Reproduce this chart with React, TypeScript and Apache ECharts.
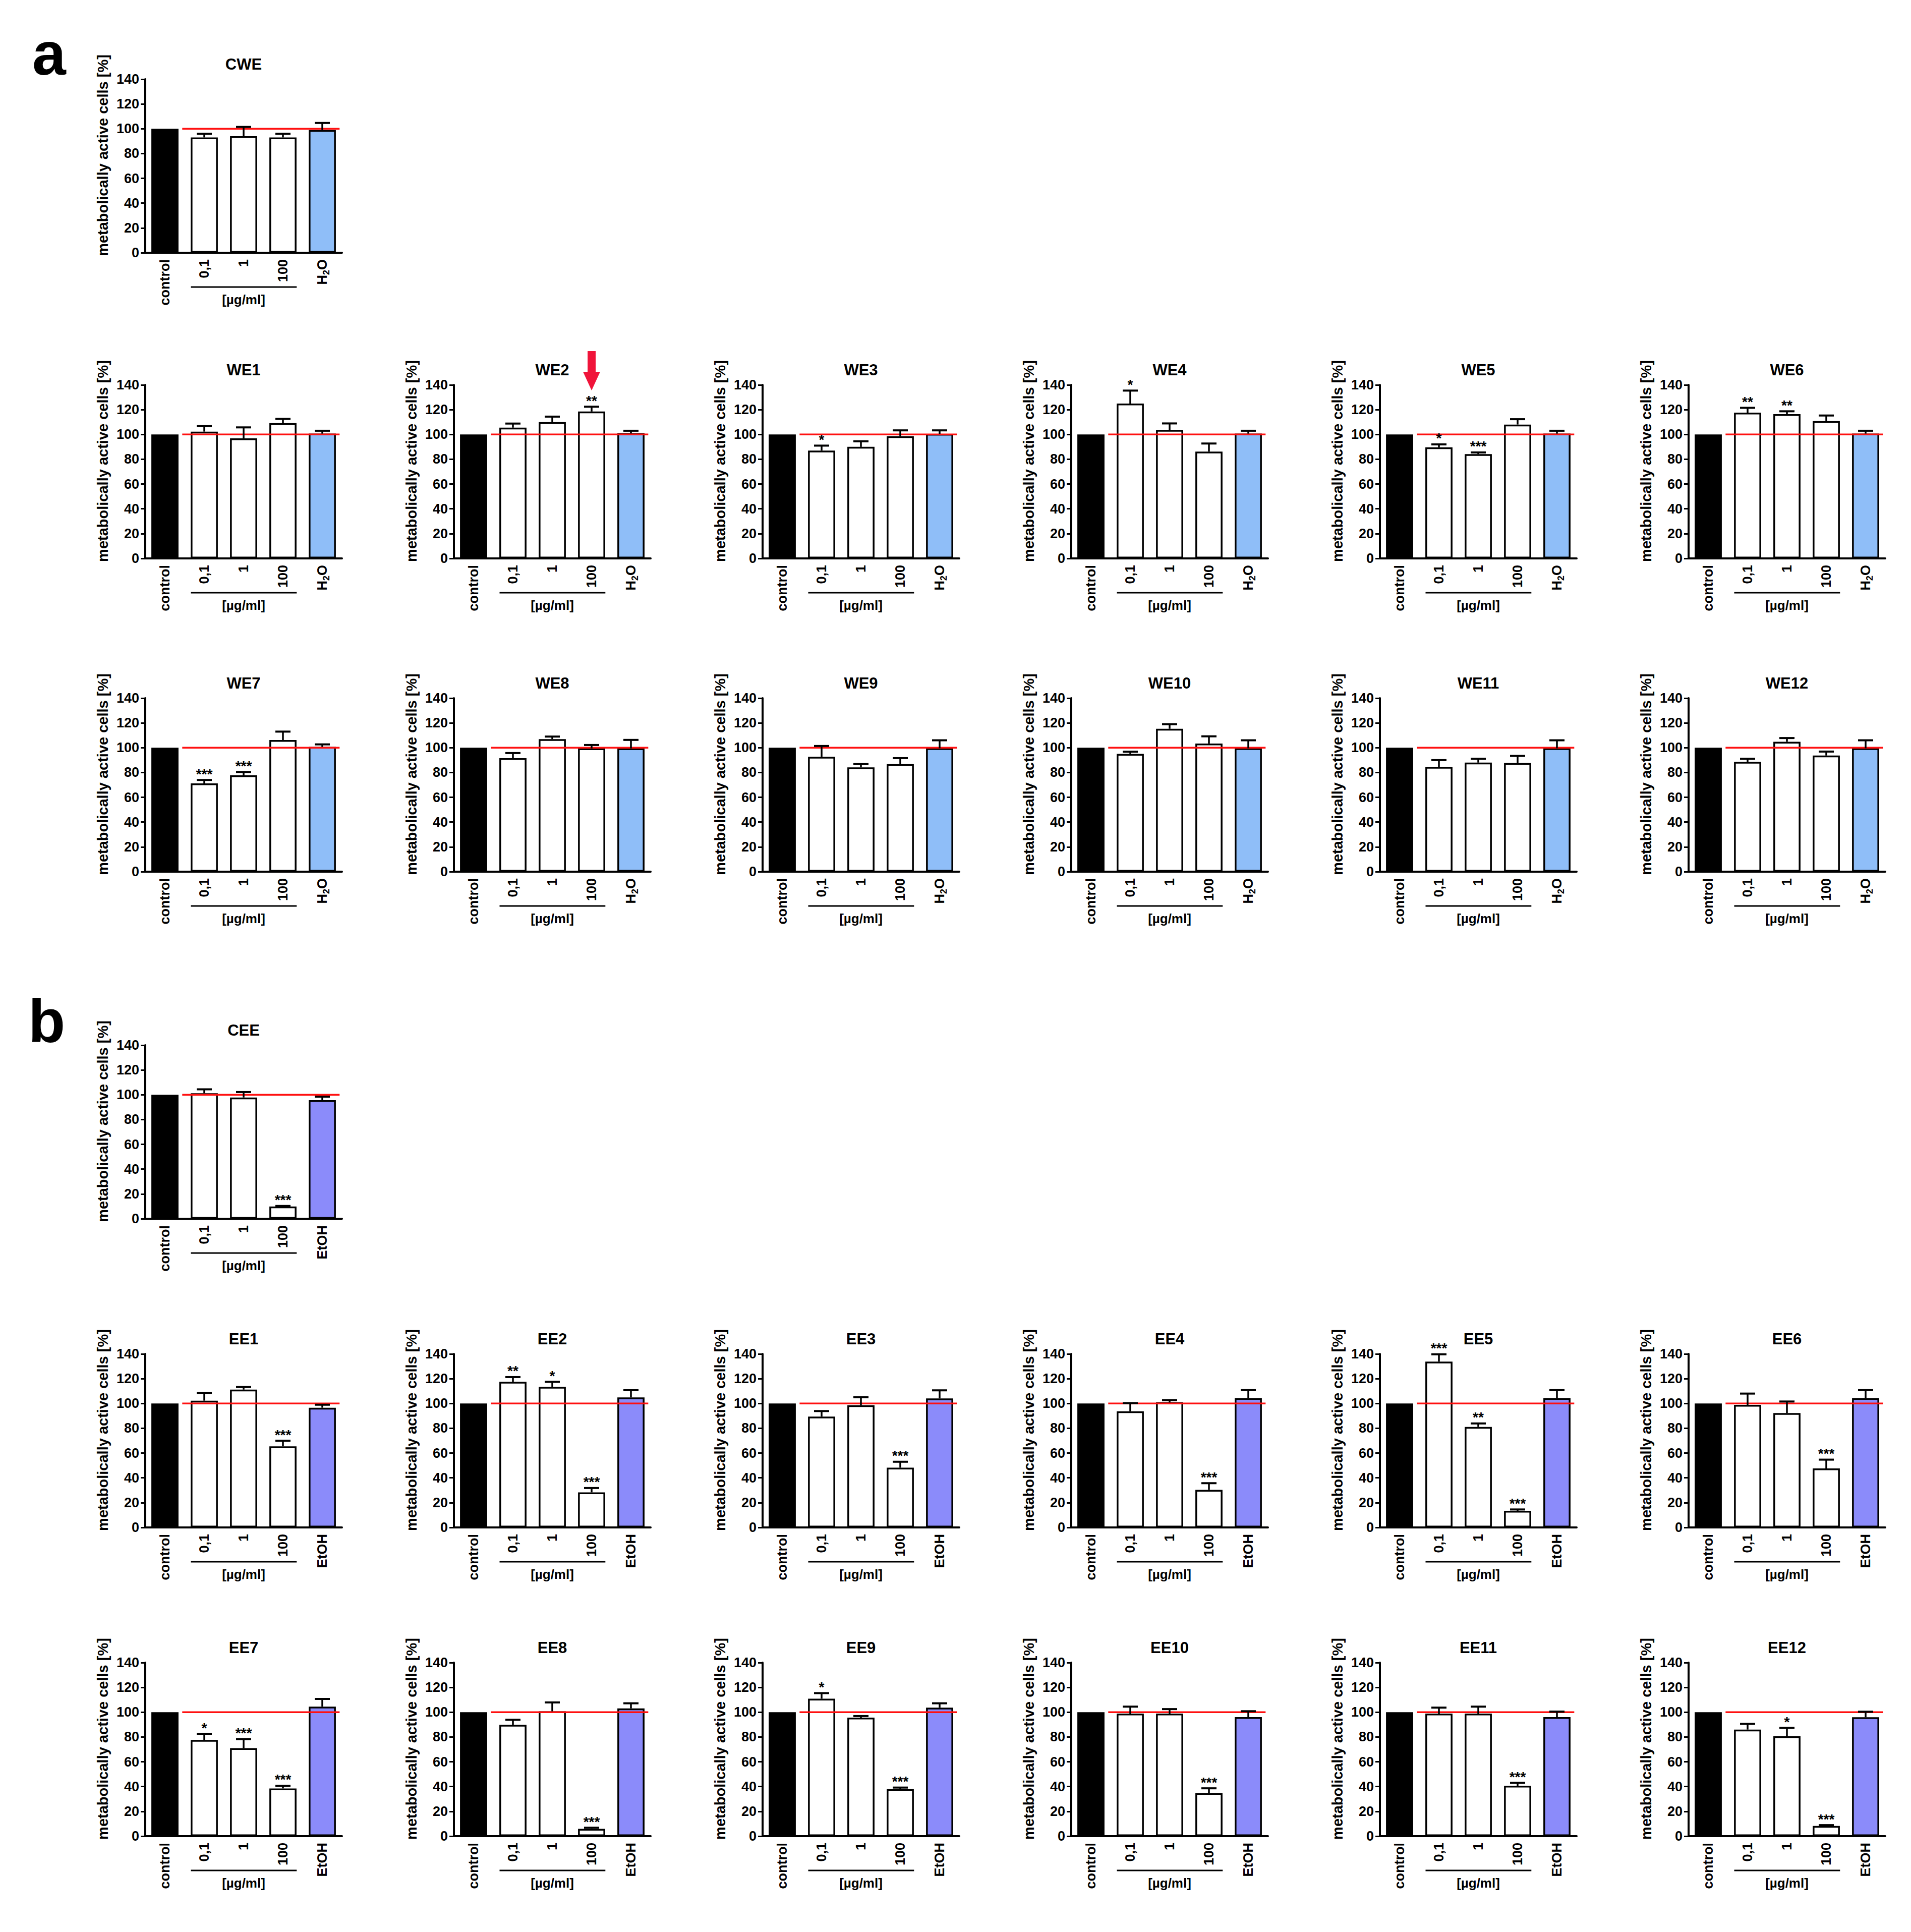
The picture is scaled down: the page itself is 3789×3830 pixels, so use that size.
import React, { useEffect, useRef } from 'react';
import * as echarts from 'echarts';

const PAGE_W = 3789;
const PAGE_H = 3830;
const FONT = '"Liberation Sans", Arial, sans-serif';

// ---- data ----
const CATS_WATER = ['control', '0,1', '1', '100', 'H2O'];
const CATS_ETOH = ['control', '0,1', '1', '100', 'EtOH'];
const REF_LEVEL = 100;
const Y_MIN = 0;
const Y_MAX = 140;
const Y_STEP = 20;
const Y_NAME = 'metabolically active cells [%]';
const UNIT = '[µg/ml]';

const CWE_MEAN = [100, 93, 94, 93, 99];
const CWE_ERR = [0, 3, 7.5, 3, 5.7];
const CWE_SIG = ['', '', '', '', ''];

const WE1_MEAN = [100, 102.3, 96.9, 109.2, 100.7];
const WE1_ERR = [0, 4.5, 8.8, 3.4, 2.3];
const WE1_SIG = ['', '', '', '', ''];
const WE2_MEAN = [100, 105.5, 110, 118.5, 101];
const WE2_ERR = [0, 3.3, 4.4, 3.9, 2];
const WE2_SIG = ['', '', '', '**', ''];
const WE3_MEAN = [100, 87, 90, 98.6, 100.5];
const WE3_ERR = [0, 4, 4.5, 4.7, 2.8];
const WE3_SIG = ['', '*', '', '', ''];
const WE4_MEAN = [100, 124.9, 103.7, 86.2, 100.7];
const WE4_ERR = [0, 10.5, 5.2, 6.5, 2.3];
const WE4_SIG = ['', '*', '', '', ''];
const WE5_MEAN = [100, 89.6, 84.1, 108, 100.7];
const WE5_ERR = [0, 2.4, 1.4, 4.3, 2.3];
const WE5_SIG = ['', '*', '***', '', ''];
const WE6_MEAN = [100, 117.6, 116.4, 110.8, 100.7];
const WE6_ERR = [0, 3.9, 2.3, 4.5, 2.3];
const WE6_SIG = ['', '**', '**', '', ''];
const WE7_MEAN = [100, 71.2, 77.7, 106.2, 100.7];
const WE7_ERR = [0, 2.8, 2.7, 6.8, 2];
const WE7_SIG = ['', '***', '***', '', ''];
const WE8_MEAN = [100, 91.6, 106.9, 99.5, 99.5];
const WE8_ERR = [0, 4.1, 2.1, 2.7, 6.8];
const WE8_SIG = ['', '', '', '', ''];
const WE9_MEAN = [100, 92.7, 84.1, 86.8, 99.6];
const WE9_ERR = [0, 8.7, 2.7, 4.8, 6.4];
const WE9_SIG = ['', '', '', '', ''];
const WE10_MEAN = [100, 95, 115.3, 103.4, 99.6];
const WE10_ERR = [0, 1.8, 3.7, 5.8, 6.4];
const WE10_SIG = ['', '', '', '', ''];
const WE11_MEAN = [100, 84.5, 88, 87.7, 99.6];
const WE11_ERR = [0, 5.5, 3.1, 5.7, 6.4];
const WE11_SIG = ['', '', '', '', ''];
const WE12_MEAN = [100, 88.6, 104.8, 93.7, 99.6];
const WE12_ERR = [0, 2.5, 3, 3.2, 6.4];
const WE12_SIG = ['', '', '', '', ''];

const CEE_MEAN = [100, 101.2, 97.8, 9.9, 95.6];
const CEE_ERR = [0, 3.2, 4.4, 0.4, 2.9];
const CEE_SIG = ['', '', '', '***', ''];

const EE1_MEAN = [100, 102.3, 111.2, 65.4, 96.6];
const EE1_ERR = [0, 6.3, 2.1, 4.6, 2.4];
const EE1_SIG = ['', '', '', '***', ''];
const EE2_MEAN = [100, 117.5, 113.4, 28.3, 104.9];
const EE2_ERR = [0, 3.8, 4.1, 3.5, 5.8];
const EE2_SIG = ['', '**', '*', '***', ''];
const EE3_MEAN = [100, 89.4, 98.6, 48.2, 104.1];
const EE3_ERR = [0, 4.5, 6.4, 4.8, 6.5];
const EE3_SIG = ['', '', '', '***', ''];
const EE4_MEAN = [100, 93.7, 101, 30.3, 104.4];
const EE4_ERR = [0, 6.6, 1.7, 5.4, 6.4];
const EE4_SIG = ['', '', '', '***', ''];
const EE5_MEAN = [100, 133.8, 81.1, 13.4, 104.4];
const EE5_ERR = [0, 5.9, 2.8, 1.1, 6.4];
const EE5_SIG = ['', '***', '**', '***', ''];
const EE6_MEAN = [100, 98.9, 92.3, 47.6, 104.4];
const EE6_ERR = [0, 9.1, 9.3, 7.1, 6.4];
const EE6_SIG = ['', '', '', '***', ''];
const EE7_MEAN = [100, 77.6, 71, 38.5, 104.5];
const EE7_ERR = [0, 5, 7.3, 2.2, 6.2];
const EE7_SIG = ['', '*', '***', '***', ''];
const EE8_MEAN = [100, 89.8, 100.7, 5.9, 103.1];
const EE8_ERR = [0, 4.1, 7.2, 0.9, 4.1];
const EE8_SIG = ['', '', '', '***', ''];
const EE9_MEAN = [100, 110.9, 95.6, 38.1, 103.7];
const EE9_ERR = [0, 4.5, 1.3, 1.1, 3.5];
const EE9_SIG = ['', '*', '', '***', ''];
const EE10_MEAN = [100, 98.9, 98.9, 34.8, 96];
const EE10_ERR = [0, 5.6, 3.6, 3.8, 4.8];
const EE10_SIG = ['', '', '', '***', ''];
const EE11_MEAN = [100, 98.9, 98.9, 40.7, 96];
const EE11_ERR = [0, 4.8, 5.6, 2.4, 4.5];
const EE11_SIG = ['', '', '', '***', ''];
const EE12_MEAN = [100, 86, 80.6, 8.2, 95.9];
const EE12_ERR = [0, 4.6, 6.8, 0.7, 4.5];
const EE12_SIG = ['', '', '*', '***', ''];

// annotation arrow (panel name, category index)
const ARROW_PANEL = 'WE2';
const ARROW_INDEX = 3;

// ---- layout ----
const COL_LEFT = [288, 900, 1512, 2124, 2736, 3348];
const ROW_TOP = [157, 763, 1384, 2072, 2684, 3296];
const GRID_W = 390;
const GRID_H = 344;
const COLOR_WATER = '#8FBEF8';
const COLOR_ETOH = '#8B8BFA';

type Panel = { name: string; mean: number[]; err: number[]; sig: string[]; water: boolean; row: number; col: number };

const PANELS: Panel[] = [
  { name: 'CWE', mean: CWE_MEAN, err: CWE_ERR, sig: CWE_SIG, water: true, row: 0, col: 0 },
  { name: 'WE1', mean: WE1_MEAN, err: WE1_ERR, sig: WE1_SIG, water: true, row: 1, col: 0 },
  { name: 'WE2', mean: WE2_MEAN, err: WE2_ERR, sig: WE2_SIG, water: true, row: 1, col: 1 },
  { name: 'WE3', mean: WE3_MEAN, err: WE3_ERR, sig: WE3_SIG, water: true, row: 1, col: 2 },
  { name: 'WE4', mean: WE4_MEAN, err: WE4_ERR, sig: WE4_SIG, water: true, row: 1, col: 3 },
  { name: 'WE5', mean: WE5_MEAN, err: WE5_ERR, sig: WE5_SIG, water: true, row: 1, col: 4 },
  { name: 'WE6', mean: WE6_MEAN, err: WE6_ERR, sig: WE6_SIG, water: true, row: 1, col: 5 },
  { name: 'WE7', mean: WE7_MEAN, err: WE7_ERR, sig: WE7_SIG, water: true, row: 2, col: 0 },
  { name: 'WE8', mean: WE8_MEAN, err: WE8_ERR, sig: WE8_SIG, water: true, row: 2, col: 1 },
  { name: 'WE9', mean: WE9_MEAN, err: WE9_ERR, sig: WE9_SIG, water: true, row: 2, col: 2 },
  { name: 'WE10', mean: WE10_MEAN, err: WE10_ERR, sig: WE10_SIG, water: true, row: 2, col: 3 },
  { name: 'WE11', mean: WE11_MEAN, err: WE11_ERR, sig: WE11_SIG, water: true, row: 2, col: 4 },
  { name: 'WE12', mean: WE12_MEAN, err: WE12_ERR, sig: WE12_SIG, water: true, row: 2, col: 5 },
  { name: 'CEE', mean: CEE_MEAN, err: CEE_ERR, sig: CEE_SIG, water: false, row: 3, col: 0 },
  { name: 'EE1', mean: EE1_MEAN, err: EE1_ERR, sig: EE1_SIG, water: false, row: 4, col: 0 },
  { name: 'EE2', mean: EE2_MEAN, err: EE2_ERR, sig: EE2_SIG, water: false, row: 4, col: 1 },
  { name: 'EE3', mean: EE3_MEAN, err: EE3_ERR, sig: EE3_SIG, water: false, row: 4, col: 2 },
  { name: 'EE4', mean: EE4_MEAN, err: EE4_ERR, sig: EE4_SIG, water: false, row: 4, col: 3 },
  { name: 'EE5', mean: EE5_MEAN, err: EE5_ERR, sig: EE5_SIG, water: false, row: 4, col: 4 },
  { name: 'EE6', mean: EE6_MEAN, err: EE6_ERR, sig: EE6_SIG, water: false, row: 4, col: 5 },
  { name: 'EE7', mean: EE7_MEAN, err: EE7_ERR, sig: EE7_SIG, water: false, row: 5, col: 0 },
  { name: 'EE8', mean: EE8_MEAN, err: EE8_ERR, sig: EE8_SIG, water: false, row: 5, col: 1 },
  { name: 'EE9', mean: EE9_MEAN, err: EE9_ERR, sig: EE9_SIG, water: false, row: 5, col: 2 },
  { name: 'EE10', mean: EE10_MEAN, err: EE10_ERR, sig: EE10_SIG, water: false, row: 5, col: 3 },
  { name: 'EE11', mean: EE11_MEAN, err: EE11_ERR, sig: EE11_SIG, water: false, row: 5, col: 4 },
  { name: 'EE12', mean: EE12_MEAN, err: EE12_ERR, sig: EE12_SIG, water: false, row: 5, col: 5 },
];

function txt(text: string, x: number, y: number, size: number, align = 'center', valign = 'middle', fill = '#000') {
  return {
    type: 'text',
    x,
    y,
    style: {
      text,
      fill,
      textFill: fill,
      fontSize: size,
      fontWeight: 'bold',
      fontFamily: FONT,
      align,
      verticalAlign: valign,
      textAlign: align,
      textVerticalAlign: valign,
    },
  };
}

function buildOption() {
  const grid: any[] = [];
  const xAxis: any[] = [];
  const yAxis: any[] = [];
  const series: any[] = [];
  const graphic: any[] = [];

  PANELS.forEach((p, i) => {
    const left = COL_LEFT[p.col];
    const top = ROW_TOP[p.row];
    grid.push({ left, top, width: GRID_W, height: GRID_H, containLabel: false });
    xAxis.push({
      gridIndex: i,
      type: 'category',
      data: p.water ? CATS_WATER : CATS_ETOH,
      axisLine: { lineStyle: { color: '#000', width: 4 } },
      axisTick: { alignWithLabel: true, length: 9, lineStyle: { color: '#000', width: 3 } },
      axisLabel: {
        rotate: 90,
        margin: 13,
        interval: 0,
        color: '#000',
        fontSize: 27,
        fontWeight: 'bold',
        fontFamily: FONT,
        formatter: (v: string) => (v === 'H2O' ? '{n|H}{s|2}{n|O}' : v),
        rich: {
          n: { fontSize: 27, fontWeight: 'bold', fontFamily: FONT, color: '#000', lineHeight: 34 },
          s: { fontSize: 18, fontWeight: 'bold', fontFamily: FONT, color: '#000', verticalAlign: 'bottom', lineHeight: 34 },
        },
      },
      splitLine: { show: false },
    });
    yAxis.push({
      gridIndex: i,
      type: 'value',
      min: Y_MIN,
      max: Y_MAX,
      interval: Y_STEP,
      name: Y_NAME,
      nameLocation: 'middle',
      nameGap: 70,
      nameTextStyle: {
        color: '#000',
        fontSize: 29,
        fontWeight: 'bold',
        fontFamily: FONT,
        padding: [0, 0, 0, 42],
      },
      axisLine: { show: true, lineStyle: { color: '#000', width: 4 } },
      axisTick: { show: true, length: 9, lineStyle: { color: '#000', width: 3 } },
      axisLabel: { color: '#000', fontSize: 27, fontWeight: 'bold', fontFamily: FONT, margin: 12 },
      splitLine: { show: false },
    });

    const lastColor = p.water ? COLOR_WATER : COLOR_ETOH;
    series.push({
      type: 'bar',
      xAxisIndex: i,
      yAxisIndex: i,
      barWidth: '69%',
      z: 2,
      data: p.mean.map((v, j) => ({
        value: v,
        itemStyle:
          j === 0
            ? { color: '#000', borderWidth: 0 }
            : { color: j === 4 ? lastColor : '#fff', borderColor: '#000', borderWidth: 3.5 },
      })),
    });

    // reference line, unit bracket and annotation arrow
    series.push({
      type: 'custom',
      xAxisIndex: i,
      yAxisIndex: i,
      z: 4,
      silent: true,
      data: [[0, REF_LEVEL]],
      renderItem: (params: any, api: any) => {
        const band = api.size([1, 0])[0];
        const ref0 = api.coord([0, api.value(1)]);
        const ref4 = api.coord([4, api.value(1)]);
        const yBase = api.coord([0, Y_MIN])[1];
        const yTop = api.coord([0, Y_MAX])[1];
        const x1 = api.coord([1, Y_MIN])[0];
        const x2 = api.coord([2, Y_MIN])[0];
        const x3 = api.coord([3, Y_MIN])[0];
        const children: any[] = [
          {
            type: 'line',
            shape: { x1: ref0[0] + 0.44 * band, y1: ref0[1], x2: ref4[0] + 0.44 * band, y2: ref4[1] },
            style: { stroke: '#FF1010', lineWidth: 3.5 },
          },
          {
            type: 'line',
            shape: { x1: x1 - 0.34 * band, y1: yBase + 68, x2: x3 + 0.35 * band, y2: yBase + 68 },
            style: { stroke: '#000', lineWidth: 3 },
          },
          txt(UNIT, x2, yBase + 93, 26),
        ];
        if (p.name === ARROW_PANEL) {
          const ax = api.coord([ARROW_INDEX, Y_MAX])[0];
          children.push({
            type: 'polygon',
            shape: {
              points: [
                [ax - 8, yTop - 67],
                [ax + 8, yTop - 67],
                [ax + 8, yTop - 26],
                [ax + 17, yTop - 26],
                [ax, yTop + 11],
                [ax - 17, yTop - 26],
                [ax - 8, yTop - 26],
              ],
            },
            style: { fill: '#F0143A' },
          });
        }
        return { type: 'group', children };
      },
    });

    // error bars and significance marks
    series.push({
      type: 'custom',
      xAxisIndex: i,
      yAxisIndex: i,
      z: 5,
      silent: true,
      data: p.mean.map((v, j) => [j, v, p.err[j]]),
      renderItem: (params: any, api: any) => {
        const j = api.value(0);
        const v = api.value(1);
        const e = api.value(2);
        const base = api.coord([j, v]);
        const top = api.coord([j, v + e]);
        const children: any[] = [];
        if (e > 0) {
          children.push({
            type: 'line',
            shape: { x1: base[0], y1: base[1], x2: top[0], y2: top[1] },
            style: { stroke: '#000', lineWidth: 3.5 },
          });
          children.push({
            type: 'line',
            shape: { x1: top[0] - 15, y1: top[1], x2: top[0] + 15, y2: top[1] },
            style: { stroke: '#000', lineWidth: 4 },
          });
        }
        const s = p.sig[params.dataIndex];
        if (s) children.push(txt(s, top[0], top[1] - 12, 28));
        return { type: 'group', children };
      },
    });

    graphic.push(txt(p.name, left + GRID_W / 2, top - 30, 31));
  });

  graphic.push(txt('a', 64, 106, 120, 'left'));
  graphic.push(txt('b', 56, 2024, 120, 'left'));

  return {
    animation: false,
    backgroundColor: '#fff',
    textStyle: { fontFamily: FONT },
    grid,
    xAxis,
    yAxis,
    series,
    graphic,
  };
}

export default function App() {
  const ref = useRef<HTMLDivElement>(null);
  useEffect(() => {
    document.body.style.margin = '0';
    if (!ref.current) return;
    const chart = echarts.init(ref.current, undefined, { renderer: 'svg' });
    chart.setOption(buildOption());
    return () => chart.dispose();
  }, []);
  return <div ref={ref} style={{ width: PAGE_W, height: PAGE_H, background: '#fff' }} />;
}
